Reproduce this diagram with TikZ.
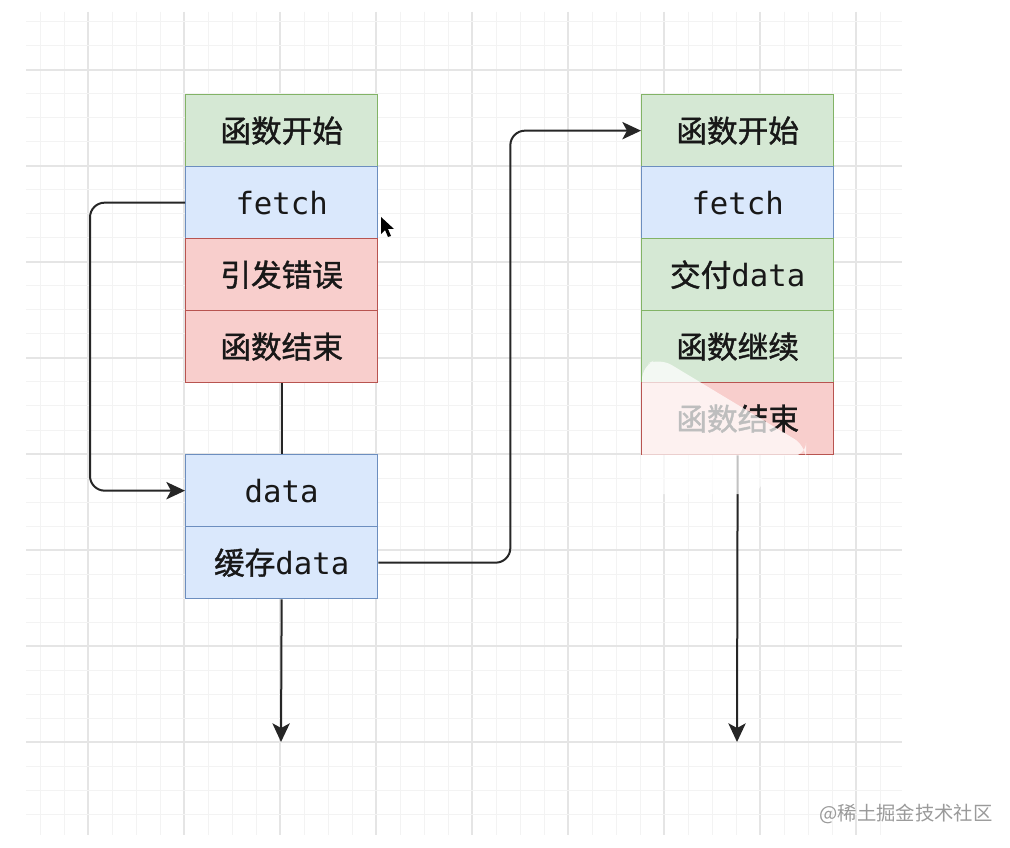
\documentclass[tikz,border=0pt]{standalone}
\usepackage{fontspec}
\setmonofont{DejaVu Sans Mono}
\newfontfamily\cjk[FakeBold=1.2]{Noto Sans CJK SC}
\newfontfamily\wmfont{Noto Sans CJK SC}
\usetikzlibrary{arrows.meta}
\definecolor{gfill}{HTML}{D5E8D4}
\definecolor{gline}{HTML}{82B366}
\definecolor{bfill}{HTML}{DAE8FC}
\definecolor{bline}{HTML}{6C8EBF}
\definecolor{rfill}{HTML}{F8CECC}
\definecolor{rline}{HTML}{B85450}
\definecolor{conncol}{HTML}{262626}
\definecolor{txtcol}{HTML}{181818}
\definecolor{gridminor}{HTML}{F3F3F3}
\definecolor{gridmajor}{HTML}{E5E5E5}
\definecolor{wmcol}{HTML}{9A9A9A}
\tikzset{
  cell/.style={draw, line width=1pt, minimum width=144pt, minimum height=54pt,
    inner sep=0pt, anchor=north west, text=txtcol,
    font=\fontsize{23}{27}\selectfont},
  greencell/.style={cell, fill=gfill, draw=gline},
  bluecell/.style={cell, fill=bfill, draw=bline},
  redcell/.style={cell, fill=rfill, draw=rline},
  conn/.style={draw=conncol, line width=1.5pt, rounded corners=11pt},
  arr/.style={conn, -{Stealth[length=14pt,width=13pt,inset=3.5pt]}}
}
\begin{document}
\begin{tikzpicture}[x=0.75pt,y=-0.75pt]
\useasboundingbox (0,0) rectangle (1010,848);
\fill[white] (0,0) rectangle (1010,848);
% grid
\foreach \i in {0,...,35}{
  \pgfmathtruncatemacro\m{mod(\i,4)}
  \pgfmathsetmacro\xx{40+24*\i}
  \ifnum\m=2
    \draw[gridmajor, line width=1pt] (\xx,12) -- (\xx,835);
  \else
    \draw[gridminor, line width=0.75pt] (\xx,12) -- (\xx,835);
  \fi
}
\foreach \j in {0,...,33}{
  \pgfmathtruncatemacro\m{mod(\j,4)}
  \pgfmathsetmacro\yy{22+24*\j}
  \ifnum\m=2
    \draw[gridmajor, line width=1pt] (26,\yy) -- (902,\yy);
  \else
    \draw[gridminor, line width=0.75pt] (26,\yy) -- (902,\yy);
  \fi
}
% left column
\node[greencell] (L1) at (185,94)  {\cjk 函数开始};
\node[bluecell]  (L2) at (185,166) {\ttfamily fetch};
\node[redcell]   (L3) at (185,238) {\cjk 引发错误};
\node[redcell]   (L4) at (185,310) {\cjk 函数结束};
\node[bluecell]  (D1) at (185,454) {\ttfamily data};
\node[bluecell]  (D2) at (185,526) {{\cjk 缓存}\ttfamily data};
% right column
\node[greencell] (R1) at (641,94)  {\cjk 函数开始};
\node[bluecell]  (R2) at (641,166) {\ttfamily fetch};
\node[greencell] (R3) at (641,238) {{\cjk 交付}\ttfamily data};
\node[greencell] (R4) at (641,310) {\cjk 函数继续};
\node[redcell]   (R5) at (641,382) {\cjk 函数结束};
% end points
\coordinate (endL) at (281,742);
\coordinate (endR) at (737,742);
% connectors
\draw[arr] (L2.west) -- ++(-95,0) |- (D1.west);
\draw[conn] (L4.south) -- (D1.north);
\draw[arr] (D2.south) -- (endL);
\draw[arr] (D2.east) -- ++(132,0) |- (R1.west);
\draw[arr] (R5.south) -- (endR);
% faded overlay (screen artifact)
\fill[white, opacity=0.72, rounded corners=10pt]
  (642,366) -- (660,358) -- (806,446) -- (806,456) -- (762,456) -- (762,494) -- (642,494) -- cycle;
% mouse cursor
\fill[black] (381,217) -- (381,234) -- (385,230) -- (388,237) -- (391,236) -- (388,229) -- (394,229) -- cycle;
% watermark
\node[text=wmcol, font=\wmfont\fontsize{14.5}{17}\selectfont, inner sep=0pt] (wm) at (906,814) {@稀土掘金技术社区};
\end{tikzpicture}
\end{document}
